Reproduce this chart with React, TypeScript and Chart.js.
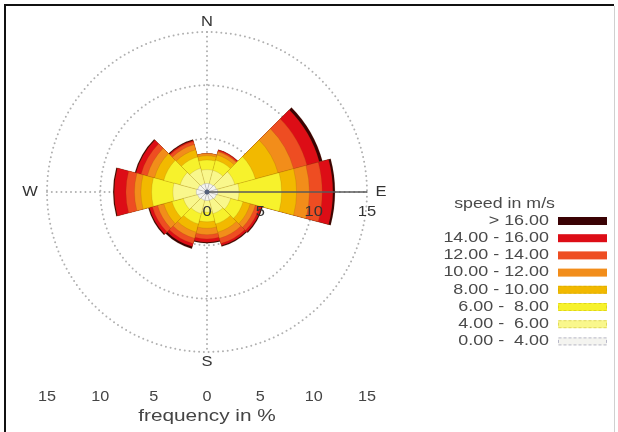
import React, { useEffect, useRef } from "react";
import { Chart, registerables } from "chart.js";

Chart.register(...registerables);

// 12 direction sectors (30° each), clockwise from north
const directions = ["N", "30°", "60°", "E", "120°", "150°", "S", "210°", "240°", "W", "300°", "330°"];

// frequency (%) per speed class and direction
const speed0to4 = [0.8, 0.8, 0.9, 1.0, 0.9, 0.8, 0.8, 0.8, 0.9, 1.0, 0.9, 0.8];
const speed4to6 = [1.3, 1.3, 1.8, 2.0, 1.4, 1.3, 1.1, 1.3, 1.4, 2.2, 1.7, 1.5];
const speed6to8 = [0.9, 1.0, 2.0, 4.0, 1.2, 1.0, 0.9, 1.0, 1.1, 2.0, 1.6, 1.1];
const speed8to10 = [0.4, 0.5, 2.2, 1.4, 0.7, 0.8, 0.6, 0.8, 0.8, 1.0, 0.9, 0.7];
const speed10to12 = [0.2, 0.3, 1.5, 1.2, 0.5, 0.6, 0.6, 0.6, 0.6, 0.6, 0.7, 0.5];
const speed12to14 = [0.0, 0.1, 1.3, 1.2, 0.4, 0.5, 0.4, 0.5, 0.5, 0.8, 0.6, 0.3];
const speed14to16 = [0.0, 0.1, 1.2, 1.0, 0.2, 0.2, 0.3, 0.3, 0.3, 1.1, 0.5, 0.1];
const speedOver16 = [0.0, 0.0, 0.3, 0.2, 0.1, 0.1, 0.1, 0.2, 0.1, 0.1, 0.1, 0.1];

const speedSeries = [speed0to4, speed4to6, speed6to8, speed8to10, speed10to12, speed12to14, speed14to16, speedOver16];
const speedLabels = ["0.00 -  4.00", "4.00 -  6.00", "6.00 -  8.00", "8.00 - 10.00", "10.00 - 12.00", "12.00 - 14.00", "14.00 - 16.00", "> 16.00"];
const speedColors = ["#f4f4f0", "#f9f78c", "#f7f22c", "#f2b900", "#f28d1a", "#ee4d22", "#dd0d16", "#3a0204"];

const radialTicks = [0, 5, 10, 15];
const bottomTicks = [-15, -10, -5, 0, 5, 10, 15];
const compassLabels = ["N", "E", "S", "W"];
const legendTitle = "speed in m/s";
const axisTitle = "frequency in %";

const FONT = '"Liberation Sans", Arial, sans-serif';

function txt(ctx: CanvasRenderingContext2D, s: string, x: number, y: number, align: CanvasTextAlign, size: number, color: string, sx = 1) {
  ctx.save();
  ctx.font = `${size}px ${FONT}`;
  ctx.fillStyle = color;
  ctx.textAlign = align;
  ctx.textBaseline = "middle";
  ctx.translate(x, y);
  ctx.scale(sx, 1);
  ctx.fillText(s, 0, 0);
  ctx.restore();
}

const decorPlugin = {
  id: "windroseDecor",
  beforeDraw(chart: any) {
    const ctx = chart.ctx as CanvasRenderingContext2D;
    ctx.save();
    ctx.fillStyle = "#ffffff";
    ctx.fillRect(0, 0, chart.width, chart.height);
    ctx.restore();
  },
  beforeDatasetsDraw(chart: any) {
    const ctx = chart.ctx as CanvasRenderingContext2D;
    const sc = chart.scales.r;
    const cx = sc.xCenter, cy = sc.yCenter;
    ctx.save();
    ctx.strokeStyle = "#b0b0b0";
    ctx.lineWidth = 2;
    ctx.lineCap = "round";
    ctx.setLineDash([0, 4.8]);
    radialTicks.forEach((v) => {
      if (v === 0) return;
      const r = sc.getDistanceFromCenterForValue(v);
      ctx.beginPath();
      ctx.arc(cx, cy, r, 0, Math.PI * 2);
      ctx.stroke();
    });
    const R = sc.getDistanceFromCenterForValue(radialTicks[radialTicks.length - 1]);
    ctx.beginPath();
    ctx.moveTo(cx, cy - R);
    ctx.lineTo(cx, cy + R);
    ctx.moveTo(cx - R, cy);
    ctx.lineTo(cx + R, cy);
    ctx.stroke();
    ctx.restore();
  },
  afterDatasetsDraw(chart: any) {
    const ctx = chart.ctx as CanvasRenderingContext2D;
    const sc = chart.scales.r;
    const cx = sc.xCenter, cy = sc.yCenter;
    const R = sc.getDistanceFromCenterForValue(radialTicks[radialTicks.length - 1]);

    // east frequency axis
    ctx.save();
    ctx.strokeStyle = "#5a5a5a";
    ctx.lineWidth = 1.5;
    ctx.beginPath();
    ctx.moveTo(cx, cy);
    ctx.lineTo(cx + R, cy);
    ctx.stroke();
    ctx.fillStyle = "#55607a";
    ctx.beginPath();
    ctx.arc(cx, cy, 2.5, 0, Math.PI * 2);
    ctx.fill();
    ctx.restore();

    radialTicks.forEach((v) => {
      txt(ctx, String(v), cx + sc.getDistanceFromCenterForValue(v), cy + 20, "center", 15, "#333", 1.1);
    });

    // compass labels
    txt(ctx, compassLabels[0], cx, cy - R - 10, "center", 15, "#333", 1.1);
    txt(ctx, compassLabels[1], cx + R + 14, cy, "center", 15, "#333", 1.1);
    txt(ctx, compassLabels[2], cx, cy + R + 10, "center", 15, "#333", 1.1);
    txt(ctx, compassLabels[3], cx - R - 17, cy, "center", 15, "#333", 1.1);

    // bottom frequency scale
    bottomTicks.forEach((v) => {
      const x = cx + Math.sign(v) * sc.getDistanceFromCenterForValue(Math.abs(v));
      txt(ctx, String(Math.abs(v)), x, 397, "center", 15, "#444", 1.08);
    });
    txt(ctx, axisTitle, cx, 417, "center", 16, "#444", 1.3);

    // legend
    const lx = 549;
    const swX = 558, swW = 49, swH = 8;
    txt(ctx, legendTitle, 555, 204, "right", 14, "#4a4a4a", 1.27);
    const rows = speedLabels.length;
    for (let k = 0; k < rows; k++) {
      const cls = rows - 1 - k;
      const y = 221 + k * 17.2;
      txt(ctx, speedLabels[cls], lx, y, "right", 14, "#4a4a4a", 1.28);
      ctx.save();
      ctx.fillStyle = speedColors[cls];
      ctx.fillRect(swX, y - swH / 2, swW, swH);
      if (cls <= 3) {
        ctx.strokeStyle = cls === 0 ? "#b8b8c8" : "rgba(180,160,0,0.35)";
        ctx.lineWidth = 1;
        ctx.setLineDash([3, 2]);
        ctx.strokeRect(swX + 0.5, y - swH / 2 + 0.5, swW - 1, swH - 1);
      }
      ctx.restore();
    }

    // frame
    ctx.save();
    ctx.strokeStyle = "#111";
    ctx.lineWidth = 2;
    ctx.beginPath();
    ctx.moveTo(5, 432);
    ctx.lineTo(5, 5);
    ctx.lineTo(614, 5);
    ctx.stroke();
    ctx.strokeStyle = "#d0d0d0";
    ctx.lineWidth = 1;
    ctx.beginPath();
    ctx.moveTo(614.5, 6);
    ctx.lineTo(614.5, 432);
    ctx.stroke();
    ctx.restore();
  },
};

export default function App() {
  const ref = useRef<HTMLCanvasElement | null>(null);

  useEffect(() => {
    if (!ref.current) return;
    const datasets = speedSeries.map((_, k) => {
      const cum = directions.map((__, i) => {
        let s = 0;
        for (let j = 0; j <= k; j++) s += speedSeries[j][i];
        return +s.toFixed(2);
      });
      return {
        label: speedLabels[k],
        data: cum,
        backgroundColor: speedColors[k],
        borderColor: k === 0 ? "rgba(150,150,170,0.5)" : "rgba(120,70,0,0.22)",
        borderWidth: 0.7,
      };
    });

    const chart = new Chart(ref.current, {
      type: "polarArea",
      data: { labels: directions, datasets },
      plugins: [decorPlugin],
      options: {
        responsive: false,
        animation: false,
        layout: { padding: { left: 47, top: 32, right: 251, bottom: 80 } },
        plugins: { legend: { display: false }, tooltip: { enabled: false } },
        scales: {
          r: {
            min: 0,
            max: 15,
            startAngle: -15,
            ticks: { display: false, stepSize: 5 },
            grid: { display: false },
            angleLines: { display: false },
            pointLabels: { display: false },
          },
        },
      },
    } as any);
    return () => chart.destroy();
  }, []);

  return (
    <div style={{ position: "fixed", left: 0, top: 0, width: 618, height: 432, background: "#fff" }}>
      <canvas ref={ref} width={618} height={432} style={{ display: "block", width: 618, height: 432 }} />
    </div>
  );
}
